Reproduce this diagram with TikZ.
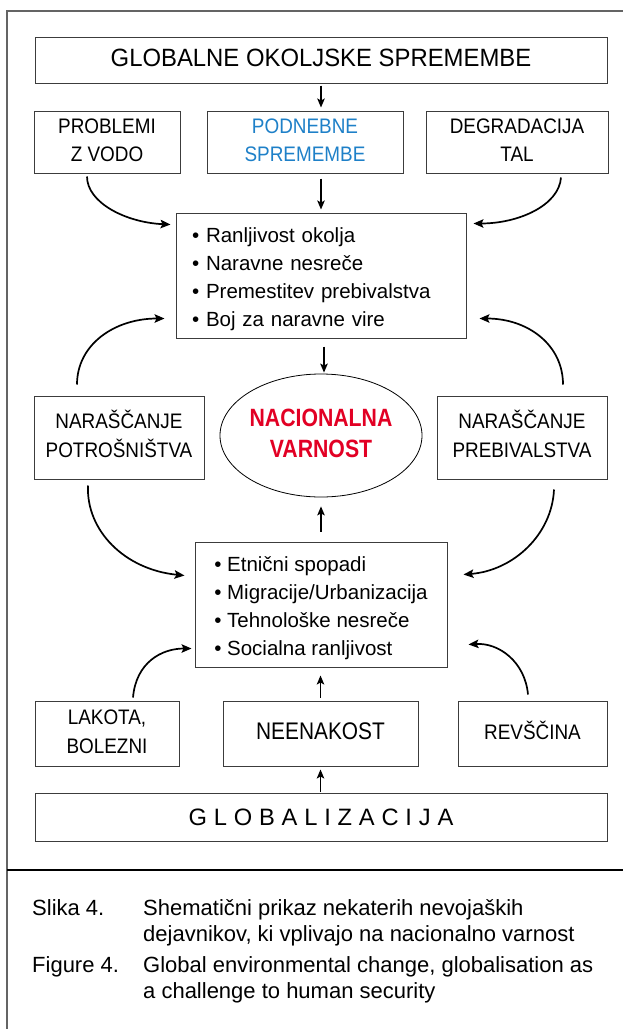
\documentclass[tikz,border=0pt]{standalone}
\usepackage{fontspec}
\setmainfont{Liberation Sans}
\usetikzlibrary{arrows.meta,shapes.geometric,calc}
\definecolor{blu}{RGB}{30,128,200}
\definecolor{rd}{RGB}{226,0,36}
\definecolor{frm}{RGB}{100,100,100}
\definecolor{bx}{RGB}{60,60,60}
\newcommand\cond[2][0.9]{\scalebox{#1}[1]{\begin{tabular}{@{}c@{}}#2\end{tabular}}}
\newcommand\gsp{\hspace{6.8pt}}
\newcommand\topfix{\rule{0pt}{23pt}}
\begin{document}
\begin{tikzpicture}[x=1pt,y=-1pt,
 box/.style={draw=bx,line width=1pt,rectangle,inner sep=0pt,align=center},
 capf/.style={font=\fontsize{21}{28.5}\selectfont},
 arr/.style={line width=1.5pt,-{Stealth[length=9pt,width=7.5pt,inset=2pt]}},
 carr/.style={line width=1.7pt,-{Stealth[length=10pt,width=8.5pt,inset=2pt]}},
 bl/.style={box,align=left,font=\fontsize{20.5}{28}\selectfont},
 captxt/.style={anchor=base west,inner sep=0pt,font=\fontsize{22}{27}\selectfont}
]
\useasboundingbox (0,0) rectangle (623,1029);
\fill[white] (0,0) rectangle (623,1029);
\draw[frm,line width=1.5pt] (7,1029) -- (7,11) -- (623,11);
\draw[black,line width=1.2pt] (7,870) -- (623,870);

% nodes
\node[box,minimum width=572,minimum height=46,font=\fontsize{25}{30}\selectfont] (title) at (321,60) {\cond[0.955]{GLOBALNE OKOLJSKE SPREMEMBE}};
\node[box,capf,minimum width=146,minimum height=62] (probl) at (107,142) {\cond{PROBLEMI\\Z VODO}};
\node[box,capf,minimum width=196,minimum height=62,text=blu] (podn) at (305,142) {\cond{PODNEBNE\\SPREMEMBE}};
\node[box,capf,minimum width=182,minimum height=62] (degr) at (517,142) {\cond{DEGRADACIJA\\TAL}};

\node[bl,minimum width=290,minimum height=125,text width=258,inner xsep=16pt] (box3) at (321,275.5)
 {\topfix• Ranljivost okolja\\• Naravne nesreče\\• Premestitev prebivalstva\\• Boj za naravne vire};

\node[box,capf,minimum width=170,minimum height=83] (potr) at (119,437.5) {\cond{NARAŠČANJE\\POTROŠNIŠTVA}};
\node[box,capf,minimum width=170,minimum height=83] (preb) at (522,437.5) {\cond{NARAŠČANJE\\PREBIVALSTVA}};
\node[ellipse,draw,line width=0.8pt,minimum width=188,minimum height=123,inner sep=0pt,text=rd,font=\fontsize{25}{31}\selectfont\bfseries] (nv) at (321,435.5) {\cond[0.85]{NACIONALNA\\VARNOST}};

\node[bl,minimum width=252,minimum height=125] (box4) at (321,604.5)
 {\topfix• Etnični spopadi\\• Migracije/Urbanizacija\\• Tehnološke nesreče\\• Socialna ranljivost};

\node[box,capf,minimum width=144,minimum height=65] (lak) at (107,733.5) {\cond{LAKOTA,\\BOLEZNI}};
\node[box,minimum width=195,minimum height=65,font=\fontsize{24}{28}\selectfont] (neen) at (320.5,733.5) {\cond[0.87]{NEENAKOST}};
\node[box,capf,minimum width=149,minimum height=65] (revs) at (532.5,733.5) {\cond{REVŠČINA}};

\node[box,minimum width=572,minimum height=48,font=\fontsize{23.7}{28}\selectfont] (glob) at (321,817)
 {G\gsp L\gsp O\gsp B\gsp A\gsp L\gsp I\gsp Z\gsp A\gsp C\gsp I\gsp J\gsp A};

% straight arrows
\draw[arr,shorten <=2pt,shorten >=3pt] (title.south) -- (title.south |- podn.north);
\draw[arr,shorten <=5pt,shorten >=3pt] (box3.north |- podn.south) -- (box3.north);
\draw[arr,shorten <=8pt,shorten >=1pt] ([xshift=3pt]box3.south) -- ([xshift=3pt]nv.north);
\draw[arr,shorten <=10pt,shorten >=9pt] (box4.north) -- (nv.south);
\draw[arr,shorten <=3pt,shorten >=8pt] (neen.north) -- (neen.north |- box4.south);
\draw[arr,shorten <=1pt,shorten >=3pt] (glob.north -| neen.north) -- (neen.south);

% curved arrows
\draw[carr] ([xshift=-20pt,yshift=-3pt]probl.south) .. controls +(0,26) and +(-45,-2) .. ([xshift=-5pt,yshift=-12pt]box3.north west);
\draw[carr] ([xshift=44pt,yshift=-4pt]degr.south) .. controls +(-2,28) and +(45,0) .. ([xshift=7pt,yshift=-11pt]box3.north east);
\draw[carr] ([xshift=-42pt,yshift=11pt]potr.north) .. controls +(0,-40) and +(-50,0) .. ([xshift=-11pt,yshift=20pt]box3.south west);
\draw[carr] ([xshift=41pt,yshift=11pt]preb.north) .. controls +(0,-40) and +(48,0) .. ([xshift=13pt,yshift=20pt]box3.south east);
\draw[carr] ([xshift=-31pt,yshift=-6pt]potr.south) .. controls +(-2,45) and +(-60,-6) .. ([xshift=-10pt,yshift=-34pt]box4.north west);
\draw[carr] ([xshift=32pt,yshift=-10pt]preb.south) .. controls +(-2,45) and +(50,-4) .. ([xshift=16pt,yshift=-33pt]box4.north east);
\draw[carr] ([xshift=26pt,yshift=3pt]lak.north) .. controls +(3,-35) and +(-30,0) .. ([xshift=-3pt,yshift=19pt]box4.south west);
\draw[carr] ([xshift=-4.5pt,yshift=6pt]revs.north) .. controls +(-3,-33) and +(30,-2) .. ([xshift=21pt,yshift=23pt]box4.south east);

% caption
\node[captxt] (c1) at (32,915) {Slika 4.};
\node[captxt] (c2) at (143,915) {Shematični prikaz nekaterih nevojaških};
\node[captxt] (c3) at (143,941) {dejavnikov, ki vplivajo na nacionalno varnost};
\node[captxt] (c4) at (32,972) {Figure 4.};
\node[captxt] (c5) at (143,972) {Global environmental change, globalisation as};
\node[captxt] (c6) at (143,998) {a challenge to human security};
\end{tikzpicture}
\end{document}
